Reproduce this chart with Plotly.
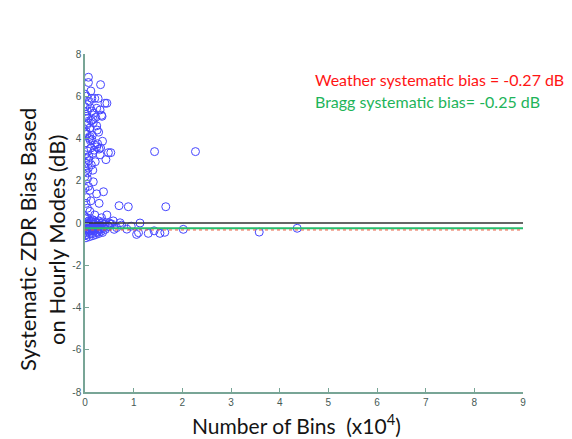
import plotly.graph_objects as go

# Hourly-mode systematic ZDR bias versus number of bins (x10^4)
bins_upper = [0.07, 0.07, 0.32, 0.12, 0.00, 0.14, 0.20, 0.27, 0.41, 0.45,
              0.24, 0.31, 0.34, 0.35, 0.00, 0.05, 0.02, 0.14, 0.17, 0.07,
              0.17, 0.24, 0.10, 0.25, 0.00, 0.04, 0.10, 0.02, 0.36, 0.14,
              0.20, 0.12, 0.24, 0.32, 0.16, 0.08, 0.31, 0.48, 0.53, 0.43,
              0.00, 0.02, 0.00, 0.07, 0.16, 0.05, 0.00, 0.07, 0.00, 0.24,
              0.38, 0.03, 0.09, 0.05, 0.11, 0.18, 0.01, 0.06, 0.13, 0.22,
              0.04, 0.28, 0.09, 0.15, 0.02, 0.19, 0.06, 0.11, 0.03, 0.26,
              0.08, 0.13, 0.01, 0.21, 0.05, 0.17, 0.10, 0.29, 0.03, 0.12]
bias_upper = [6.90, 6.65, 6.55, 6.25, 6.10, 5.90, 5.90, 5.90, 5.67, 5.67,
              5.43, 5.35, 5.10, 5.05, 5.50, 5.30, 5.05, 5.30, 4.90, 4.75,
              4.75, 4.60, 4.50, 4.40, 4.27, 4.20, 4.10, 4.35, 3.87, 3.95,
              3.70, 3.55, 3.60, 3.55, 3.30, 3.15, 3.23, 3.33, 3.33, 3.00,
              3.23, 2.83, 2.67, 2.60, 2.50, 2.37, 2.20, 1.73, 1.65, 1.38,
              1.48, 6.00, 5.75, 5.60, 5.45, 5.20, 5.15, 4.95, 4.85, 5.00,
              4.65, 4.30, 4.00, 4.15, 3.80, 3.45, 3.40, 3.90, 3.10, 3.75,
              2.95, 2.75, 2.45, 2.90, 2.10, 1.95, 1.55, 3.50, 1.20, 1.05]

bins_mid = [0.02, 0.29, 0.70, 0.89, 1.66, 0.45, 0.20, 0.00, 0.10, 1.43,
            2.27, 0.05, 0.15, 0.34]
bias_mid = [0.93, 0.93, 0.82, 0.77, 0.77, 0.38, 0.38, 0.30, 0.55, 3.38,
            3.38, 0.70, 0.15, 0.25]

bins_low = [0.72, 1.13, 2.02, 1.06, 1.30, 1.42, 1.54, 1.64, 3.58, 4.36,
            0.86, 0.60, 0.50, 0.09, 0.44, 1.10, 0.75, 0.95, 0.55, 0.65,
            0.00, 0.02, 0.04, 0.06, 0.08, 0.10, 0.12, 0.14, 0.16, 0.18,
            0.20, 0.22, 0.24, 0.26, 0.28, 0.30, 0.32, 0.35, 0.38, 0.40,
            0.01, 0.03, 0.05, 0.07, 0.09, 0.11, 0.13, 0.15, 0.17, 0.19,
            0.21, 0.23, 0.25, 0.27, 0.29, 0.31, 0.34, 0.37, 0.42, 0.46,
            0.00, 0.04, 0.08, 0.12, 0.16, 0.20, 0.24, 0.28, 0.33, 0.48,
            0.02, 0.06, 0.10, 0.14, 0.18, 0.22, 0.26, 0.36, 0.52, 0.58]
bias_low = [0.01, 0.00, -0.30, -0.54, -0.49, -0.37, -0.49, -0.44, -0.43, -0.25,
            -0.29, -0.30, 0.00, -0.65, -0.20, -0.46, -0.10, -0.15, -0.05, -0.22,
            0.20, -0.10, 0.05, -0.30, 0.10, -0.20, 0.00, -0.35, 0.15, -0.05,
            -0.25, 0.05, -0.15, -0.40, 0.10, -0.10, -0.30, 0.00, -0.20, -0.05,
            -0.45, -0.55, -0.25, 0.00, -0.15, -0.35, 0.10, -0.50, -0.05, -0.30,
            0.05, -0.20, -0.45, -0.10, 0.00, -0.25, -0.15, 0.05, -0.30, -0.10,
            -0.60, 0.25, -0.40, -0.20, -0.60, -0.35, 0.00, -0.50, -0.40, -0.15,
            -0.70, -0.05, -0.50, 0.05, -0.25, -0.55, -0.30, -0.45, -0.05, 0.10]

bins = bins_upper + bins_mid + bins_low
bias = bias_upper + bias_mid + bias_low

x_span = [0, 9]
weather_bias = -0.27
bragg_bias = -0.25

x_ticks = list(range(10))
y_ticks = list(range(-8, 9, 2))
y_tick_text = [str(v) for v in y_ticks]

fig = go.Figure()

fig.add_trace(go.Scatter(
    x=bins, y=bias, mode="markers",
    marker=dict(symbol="circle-open", size=8, color="rgb(70,70,255)",
                line=dict(width=1)),
    showlegend=False, hoverinfo="skip"))

fig.add_trace(go.Scatter(
    x=x_span, y=[0, 0], mode="lines",
    line=dict(color="rgb(50,50,50)", width=1.5),
    showlegend=False, hoverinfo="skip"))
fig.add_trace(go.Scatter(
    x=x_span, y=[bragg_bias, bragg_bias], mode="lines",
    line=dict(color="rgb(40,190,110)", width=2),
    showlegend=False, hoverinfo="skip"))
fig.add_trace(go.Scatter(
    x=x_span, y=[weather_bias - 0.06, weather_bias - 0.06], mode="lines",
    line=dict(color="rgb(230,90,60)", width=1, dash="dot"),
    showlegend=False, hoverinfo="skip"))

axis_color = "rgb(120,165,150)"
tick_font = dict(family="Liberation Sans, Arial", size=10, color="rgb(70,90,85)")

fig.update_xaxes(range=[0, 9], tickvals=x_ticks,
                 showgrid=False, zeroline=False, showline=True,
                 linecolor=axis_color, linewidth=1.5,
                 ticks="inside", ticklen=4, tickcolor=axis_color,
                 tickfont=tick_font)
fig.update_yaxes(range=[-8, 8], tickvals=y_ticks, ticktext=y_tick_text,
                 showgrid=False, zeroline=False, showline=True,
                 linecolor=axis_color, linewidth=1.5,
                 ticks="inside", ticklen=4, tickcolor=axis_color,
                 tickfont=tick_font)

title_font = dict(family="Lato, Open Sans, sans-serif", size=22, color="rgb(20,20,20)")

plot_w, plot_h = 438, 338
fig.update_layout(
    width=572, height=439,
    margin=dict(l=85, r=49, t=54, b=47),
    paper_bgcolor="white", plot_bgcolor="white",
    annotations=[
        dict(text="Systematic ZDR Bias Based", xref="paper", yref="paper",
             x=(28 - 85) / plot_w, y=(392 - 240) / plot_h, textangle=-90,
             showarrow=False, font=title_font, xanchor="center", yanchor="middle"),
        dict(text="on Hourly Modes (dB)", xref="paper", yref="paper",
             x=(57 - 85) / plot_w, y=(392 - 240) / plot_h, textangle=-90,
             showarrow=False, font=title_font, xanchor="center", yanchor="middle"),
        dict(text="Number of Bins  (x10<sup>4</sup>)", xref="paper", yref="paper",
             x=(296 - 85) / plot_w, y=-(424 - 392) / plot_h, showarrow=False,
             font=dict(family="Lato, Open Sans, sans-serif", size=21,
                       color="rgb(20,20,20)"),
             xanchor="center", yanchor="middle"),
        dict(text="Weather systematic bias = -0.27 dB", xref="paper", yref="paper",
             x=(313 - 85) / plot_w, y=(392 - 80) / plot_h, showarrow=False,
             font=dict(family="Lato, sans-serif", size=16, color="rgb(255,20,20)"),
             xanchor="left", yanchor="middle"),
        dict(text="Bragg systematic bias= -0.25 dB", xref="paper", yref="paper",
             x=(313 - 85) / plot_w, y=(392 - 102) / plot_h, showarrow=False,
             font=dict(family="Lato, sans-serif", size=16, color="rgb(30,180,90)"),
             xanchor="left", yanchor="middle"),
    ],
)

fig.write_html("out.html")
